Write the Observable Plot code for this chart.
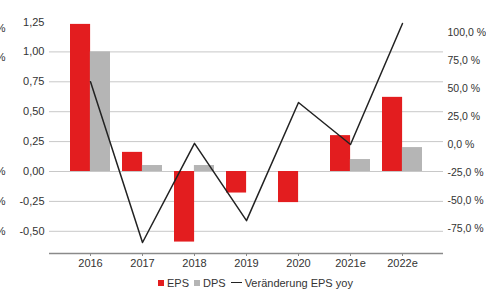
<!DOCTYPE html>
<html>
<head>
<meta charset="utf-8">
<script src="https://cdn.jsdelivr.net/npm/d3@7"></script>
<script src="https://cdn.jsdelivr.net/npm/@observablehq/plot@0.6"></script>
<style>
  html, body { margin: 0; padding: 0; background: #fff; }
  #chart { width: 486px; font-family: "Liberation Sans", Arial, sans-serif; }
  .legend { height: 19px; display: flex; align-items: center; font-size: 11px; color: #333;
            padding-left: 158px; box-sizing: border-box; padding-top: 2px; }
  .legend .sw { display: inline-block; width: 6px; height: 6px; margin-right: 3px; }
  .legend .ln { display: inline-block; width: 11px; height: 0; border-top: 1.6px solid #222; margin-right: 3px; }
  .legend .item { display: inline-flex; align-items: center; margin-right: 5px; }
</style>
</head>
<body>
<div id="chart"></div>
<script>
const years = ["2016", "2017", "2018", "2019", "2020", "2021e", "2022e"];
const eps = [1.23, 0.16, -0.59, -0.18, -0.26, 0.30, 0.62];
const dps = [1.00, 0.05, 0.05, 0.00, 0.00, 0.10, 0.20];
const epsChange = [56, -87.5, 1, -68, 37.5, 0, 108]; // % yoy
const leftTicks = [-0.5, -0.25, 0, 0.25, 0.5, 0.75, 1.0, 1.25];
const rightTicks = [-75, -50, -25, 0, 25, 50, 75, 100];
const croppedMarks = [1.2, 0.95, 0, -0.25, -0.5];

const red = "#e31d1f", grey = "#b5b5b5", lineCol = "#222";
const loc = d3.formatLocale({decimal: ",", thousands: ".", grouping: [3], currency: ["", "€"], minus: "-"});
const f2 = loc.format(".2f"), f1 = loc.format(".1f");

// secondary (right) axis mapped onto the primary scale
const toLeft = p => 0.2258 + 0.009365 * p;

const data = years.map((y, i) => ({year: y, eps: eps[i], dps: dps[i], chg: toLeft(epsChange[i])}));

const yMin = -0.6856, yMax = 1.4298;

const plot = Plot.plot({
  width: 486, height: 272,
  marginLeft: 49, marginRight: 43, marginTop: 0, marginBottom: 19,
  style: {fontFamily: "Liberation Sans, Arial, sans-serif", fontSize: "11px", color: "#333", background: "#fff"},
  x: {domain: years, paddingInner: 0.24, paddingOuter: 0.38, label: null},
  y: {domain: [yMin, yMax], label: null},
  marks: [
    Plot.gridY(leftTicks.filter(t => t < 1.25), {stroke: "#c8c8c8", strokeOpacity: 1, strokeWidth: 1}),
    Plot.barY(data, {x: "year", y: "eps", fill: red, insetRight: 19.9}),
    Plot.barY(data, {x: "year", y: "dps", fill: grey, insetLeft: 19.9}),
    Plot.line(data, {x: "year", y: "chg", stroke: lineCol, strokeWidth: 1.5}),
    Plot.ruleY([yMin], {stroke: "#8a8a8a", strokeWidth: 1.5}),
    Plot.axisX({tickSize: 3, tickPadding: 3, stroke: "#8a8a8a", fontSize: 11, fill: "#333"}),
    Plot.axisY({ticks: leftTicks, tickSize: 0, tickPadding: 5, tickFormat: f2, fontSize: 11, fill: "#333"}),
    Plot.text(rightTicks, {frameAnchor: "right", y: d => toLeft(d), text: d => f1(d) + " %", textAnchor: "start", dx: 4, fontSize: 10.5, fill: "#333"}),
    Plot.text(croppedMarks, {frameAnchor: "left", y: d => d, text: () => "%", textAnchor: "end", dx: -44, fontSize: 11, fill: "#333"})
  ]
});

const chart = document.getElementById("chart");
chart.appendChild(plot);
const legend = document.createElement("div");
legend.className = "legend";
legend.innerHTML =
  `<span class="item"><span class="sw" style="background:${red}"></span>EPS</span>` +
  `<span class="item"><span class="sw" style="background:${grey}"></span>DPS</span>` +
  `<span class="item"><span class="ln"></span>Veränderung EPS yoy</span>`;
chart.appendChild(legend);
</script>
</body>
</html>
